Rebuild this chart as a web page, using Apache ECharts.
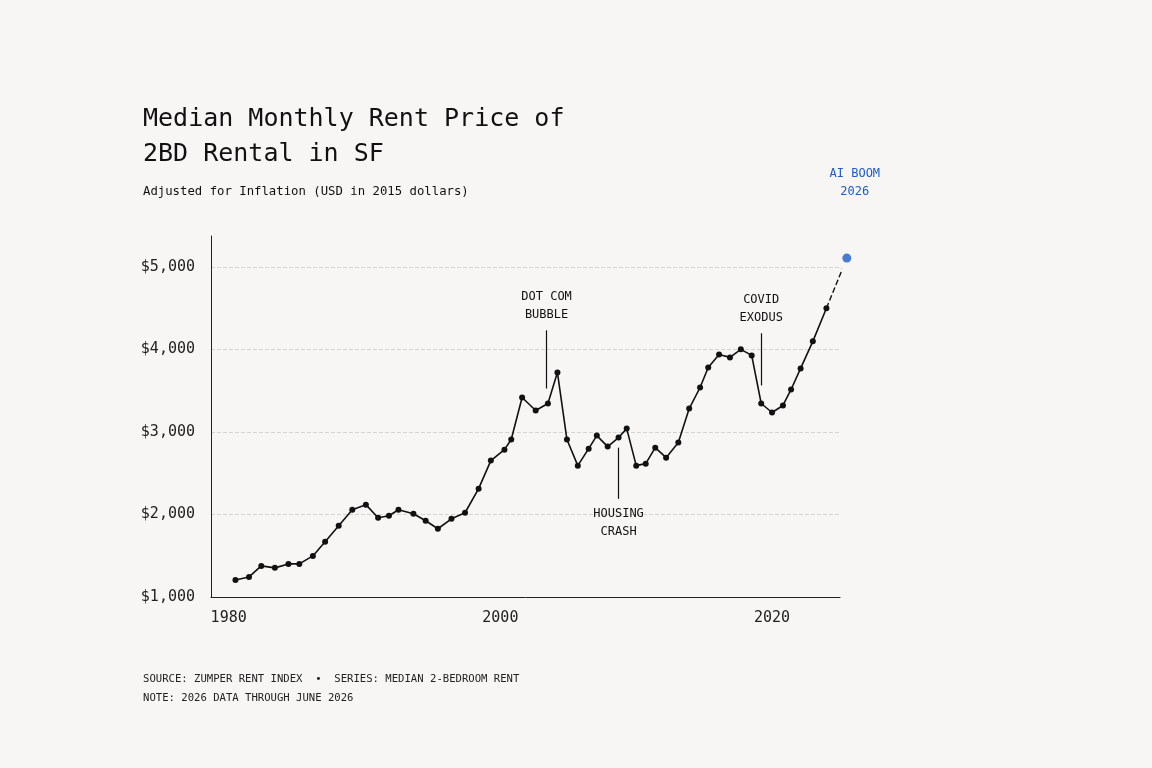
<!DOCTYPE html>
<html lang="en">
<head>
<meta charset="UTF-8">
<title>SF Rent</title>
<style>
    * { margin: 0; padding: 0; box-sizing: border-box; }
    html, body, #chart { width: 100%; height: 100%; background: #f8f6f4; }
</style>
</head>
<body>
<div id="chart"></div>
<script src="https://cdn.jsdelivr.net/npm/echarts@6/dist/echarts.min.js"></script>
<script>
    // years (fractional, as plotted) and rent values
    const years = [1980.5, 1981.5, 1982.4, 1983.4, 1984.4, 1985.2, 1986.2, 1987.1, 1988.1, 1989.1,
        1990.1, 1991.0, 1991.8, 1992.5, 1993.6, 1994.5, 1995.4, 1996.4, 1997.4, 1998.4,
        1999.3, 2000.3, 2000.8, 2001.6, 2002.6, 2003.5, 2004.2, 2004.9, 2005.7, 2006.5,
        2007.1, 2007.9, 2008.7, 2009.3, 2010.0, 2010.7, 2011.4, 2012.2, 2013.1, 2013.9,
        2014.7, 2015.3, 2016.1, 2016.9, 2017.7, 2018.5, 2019.2, 2020.0, 2020.8, 2021.4,
        2022.1, 2023.0, 2024.0]
    const rents = [1207, 1243, 1377, 1353, 1401, 1401, 1498, 1669, 1863, 2058,
        2119, 1960, 1985, 2058, 2009, 1924, 1827, 1948, 2021, 2313,
        2653, 2786, 2908, 3418, 3260, 3345, 3722, 2908, 2592, 2798,
        2956, 2823, 2932, 3041, 2592, 2616, 2810, 2689, 2871, 3284,
        3539, 3782, 3940, 3904, 4001, 3928, 3345, 3236, 3321, 3515,
        3770, 4098, 4499]
    const projection = [[2024.0, 4499], [2025.5, 5107]]
    const xTicks = [1980, 2000, 2020]
    const annotations = [
        { text: 'DOT COM\nBUBBLE', from: [2003.4, 3527], to: [2003.4, 4232] },
        { text: 'HOUSING\nCRASH', from: [2008.7, 2810], to: [2008.7, 2190] },
        { text: 'COVID\nEXODUS', from: [2019.2, 3564], to: [2019.2, 4196] }
    ]
    const aiBoom = { text: 'AI BOOM\n2026', from: [2025.5, 5253], to: [2025.5, 5751] }

    const mono = '"DejaVu Sans Mono", monospace'
    const blue = '#1a5cc8'
    const chart = echarts.init(document.getElementById('chart'))

    const lineData = years.map((y, i) => [y, rents[i]])
    const markData = annotations.map(a => [
        { coord: a.from },
        { coord: a.to, name: a.text }
    ])

    chart.setOption({
        backgroundColor: '#f8f6f4',
        animation: false,
        grid: { left: 211, right: 312, top: 236, bottom: 171 },
        graphic: [
            { type: 'text', left: 143, top: 102, style: { text: 'Median Monthly Rent Price of\n2BD Rental in SF', font: '25px ' + mono, lineHeight: 35, fill: '#111' } },
            { type: 'text', left: 143, top: 186, style: { text: 'Adjusted for Inflation (USD in 2015 dollars)', font: '12.3px ' + mono, fill: '#111' } },
            { type: 'text', left: 143, top: 670, style: { text: 'SOURCE: ZUMPER RENT INDEX  •  SERIES: MEDIAN 2-BEDROOM RENT\nNOTE: 2026 DATA THROUGH JUNE 2026', font: '10.6px ' + mono, lineHeight: 19, fill: '#222' } }
        ],
        xAxis: {
            type: 'value', min: 1978.7, max: 2025,
            splitLine: { show: false },
            axisLine: { show: true, lineStyle: { color: '#222' } },
            axisTick: { show: false },
            axisLabel: { customValues: xTicks, formatter: v => String(v), fontFamily: mono, fontSize: 15, color: '#222', margin: 14 }
        },
        yAxis: {
            type: 'value', min: 1000, max: 5375, interval: 1000,
            axisLine: { show: true, lineStyle: { color: '#222' } },
            axisTick: { show: false },
            splitLine: { showMaxLine: false, lineStyle: { color: '#d6d3d0', type: 'dashed' } },
            axisLabel: {
                showMaxLabel: false,
                fontFamily: mono, fontSize: 15, color: '#222', margin: 16,
                formatter: v => '$' + v.toLocaleString('en-US')
            }
        },
        series: [
            {
                type: 'line', data: lineData, symbol: 'circle', symbolSize: 6,
                itemStyle: { color: '#111' }, lineStyle: { color: '#111', width: 1.6 },
                markLine: {
                    silent: true, symbol: 'none',
                    lineStyle: { type: 'solid', width: 1.2, color: '#111' },
                    label: { position: 'end', formatter: '{b}', color: '#111', fontFamily: mono, fontSize: 12, lineHeight: 18, distance: 6 },
                    data: markData
                }
            },
            {
                type: 'line', data: projection, clip: false, symbol: 'none',
                lineStyle: { color: '#111', width: 1.4, type: 'dashed' }, z: 1
            },
            {
                type: 'line', data: [aiBoom.from, aiBoom.to], clip: false, symbol: 'none', silent: true,
                lineStyle: { color: '#111', width: 1.2 },
                endLabel: { show: true, formatter: aiBoom.text, color: blue, fontFamily: mono, fontSize: 12, lineHeight: 18, align: 'center', verticalAlign: 'bottom', offset: [0, -4] }
            },
            {
                type: 'scatter', data: [projection[1]], clip: false, symbolSize: 9,
                itemStyle: { color: blue }
            }
        ]
    })
</script>
</body>
</html>
